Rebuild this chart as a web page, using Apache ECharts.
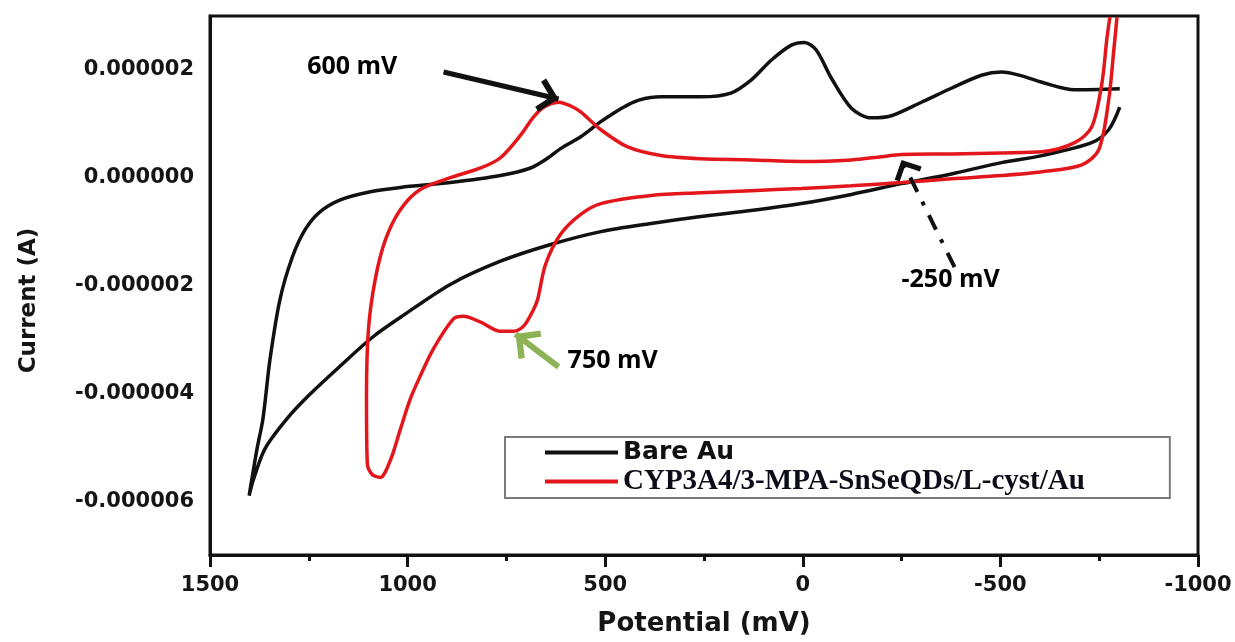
<!DOCTYPE html>
<html>
<head>
<meta charset="utf-8">
<script src="https://cdn.jsdelivr.net/npm/echarts@6/dist/echarts.min.js"></script>
<style>
  html, body { margin: 0; padding: 0; background: #fff; }
  #chart { width: 1235px; height: 642px; }
</style>
</head>
<body>
<div id="chart"></div>
<script>
// Cyclic voltammograms: potential (mV) vs current (A), traced around each loop.
const bareAuName = 'Bare Au';
const bareAuPotential = [
  -802, -774, -731, -605, -503, -376, -250, -123, 4, 131,
  258, 384, 511, 638, 765, 892, 1018, 1089, 1170, 1246,
  1305, 1361, 1391, 1401,
  1381, 1366, 1348, 1323, 1292, 1259, 1221, 1170, 1094, 1018,
  892, 765, 689, 646, 613, 562, 511, 478, 448, 415,
  359, 258, 182, 131, 80, 29, -4, -34, -72, -123,
  -173, -224, -300, -376, -452, -503, -554, -605, -688, -802
];
const bareAuCurrent = [
  1.31e-6, 0.89e-6, 0.65e-6, 0.41e-6, 0.28e-6, 0.07e-6, -0.11e-6, -0.31e-6, -0.48e-6, -0.61e-6,
  -0.72e-6, -0.85e-6, -1.00e-6, -1.24e-6, -1.55e-6, -1.98e-6, -2.59e-6, -2.96e-6, -3.49e-6, -4.01e-6,
  -4.47e-6, -5.03e-6, -5.62e-6, -5.90e-6,
  -5.03e-6, -4.47e-6, -3.36e-6, -2.26e-6, -1.48e-6, -0.96e-6, -0.63e-6, -0.41e-6, -0.26e-6, -0.18e-6,
  -0.09e-6, 0.04e-6, 0.18e-6, 0.36e-6, 0.54e-6, 0.76e-6, 1.04e-6, 1.20e-6, 1.33e-6, 1.44e-6,
  1.50e-6, 1.50e-6, 1.57e-6, 1.81e-6, 2.18e-6, 2.46e-6, 2.51e-6, 2.37e-6, 1.85e-6, 1.29e-6,
  1.11e-6, 1.15e-6, 1.40e-6, 1.66e-6, 1.90e-6, 1.96e-6, 1.89e-6, 1.77e-6, 1.63e-6, 1.65e-6
];

const modName = 'CYP3A4/3-MPA-SnSeQDs/L-cyst/Au';
const modPotential = [
  -777, -769, -757, -731, -688, -605, -503, -376, -250, -199,
  -123, 4, 131, 258, 359, 443, 511, 562, 587, 618,
  651, 681, 714, 765, 815, 892, 968, 1018, 1056, 1082,
  1099, 1104, 1102, 1089, 1069, 1044, 1018, 993, 968, 935,
  884, 859, 815, 765, 732, 706, 681, 671, 651, 613,
  562, 511, 384, 258, 131, 4, -123, -250, -376, -503,
  -605, -706, -749, -774, -787, -795
];
const modCurrent = [
  2.98e-6, 2.55e-6, 1.76e-6, 0.94e-6, 0.65e-6, 0.48e-6, 0.46e-6, 0.44e-6, 0.43e-6, 0.39e-6,
  0.33e-6, 0.30e-6, 0.33e-6, 0.35e-6, 0.41e-6, 0.57e-6, 0.89e-6, 1.22e-6, 1.33e-6, 1.40e-6,
  1.33e-6, 1.13e-6, 0.79e-6, 0.37e-6, 0.18e-6, 0.00e-6, -0.22e-6, -0.59e-6, -1.15e-6, -1.89e-6,
  -2.81e-6, -4.10e-6, -5.30e-6, -5.51e-6, -5.56e-6, -5.25e-6, -4.66e-6, -4.10e-6, -3.68e-6, -3.18e-6,
  -2.62e-6, -2.57e-6, -2.68e-6, -2.85e-6, -2.85e-6, -2.75e-6, -2.44e-6, -2.26e-6, -1.61e-6, -1.05e-6,
  -0.68e-6, -0.48e-6, -0.33e-6, -0.28e-6, -0.24e-6, -0.20e-6, -0.15e-6, -0.09e-6, -0.02e-6, 0.04e-6,
  0.11e-6, 0.24e-6, 0.52e-6, 1.44e-6, 2.37e-6, 2.98e-6
];

// Axis extents
const potentialMin = -1000, potentialMax = 1500, potentialStep = 500;
const currentMin = -7e-6, currentMax = 3e-6, currentStep = 1e-6;

// Peak annotations: text and where it sits, arrows from tail to head
const noteText = ['600 mV', '750 mV', '-250 mV'];
const notePos = [[1140, 2.05e-6], [481, -3.40e-6], [-374, -1.89e-6]];
const arrowTail = [[909, 1.96e-6], [618, -3.51e-6], [-384, -1.66e-6]];
const arrowHead = [[618, 1.46e-6], [727, -2.90e-6], [-250, 0.33e-6]];

const zip = (xs, ys) => xs.map((x, i) => [x, ys[i]]);

// open chevron head; the tiny segment ahead of the tip centres the tip on the line end
const CHEVRON = 'path://M14,0 L28,14 L24.5,17.5 L14,7.07 L3.5,17.5 L0,14 Z M14,-17.5 L14.01,-17.5';

const arrowStyles = [
  { color: '#111111', width: 5, type: 'solid', size: [34, 42] },
  { color: '#8db356', width: 6, type: 'solid', size: [36, 44] },
  { color: '#111111', width: 4, type: [16, 11, 4, 11], size: [30, 37] }
];

const axisFont = { fontFamily: 'DejaVu Sans', fontWeight: 'bold', color: '#151515' };

const chart = echarts.init(document.getElementById('chart'), null, { renderer: 'canvas' });

chart.setOption({
  animation: false,
  backgroundColor: '#ffffff',
  grid: {
    left: 210, right: 37, top: 16, bottom: 85,
    show: true, borderColor: '#111', borderWidth: 3
  },
  xAxis: {
    type: 'value',
    inverse: true,
    min: potentialMin, max: potentialMax, interval: potentialStep,
    name: 'Potential (mV)',
    nameLocation: 'middle',
    nameGap: 56,
    nameTextStyle: Object.assign({ fontSize: 26 }, axisFont),
    axisLine: { show: true, onZero: false, lineStyle: { color: '#111', width: 3 } },
    axisTick: { show: true, inside: false, length: 12, lineStyle: { color: '#111', width: 3 } },
    minorTick: { show: true, splitNumber: 2, length: 6, lineStyle: { color: '#111', width: 3 } },
    splitLine: { show: false },
    minorSplitLine: { show: false },
    axisLabel: Object.assign({ margin: 20, fontSize: 21, formatter: v => String(v) }, axisFont)
  },
  yAxis: {
    type: 'value',
    min: currentMin, max: currentMax, interval: currentStep,
    name: 'Current (A)',
    nameLocation: 'middle',
    nameGap: 169,
    nameTextStyle: Object.assign({ fontSize: 23, padding: [0, 30, 0, 0] }, axisFont),
    axisLine: { show: true, onZero: false, lineStyle: { color: '#111', width: 3 } },
    axisTick: { show: false },
    splitLine: { show: false },
    axisLabel: Object.assign({
      margin: 16, fontSize: 21,
      formatter: v => {
        const n = Math.round(v * 1e6);
        if (n % 2 !== 0) return '';
        return (n < 0 ? '-' : '') + '0.00000' + Math.abs(n);
      }
    }, axisFont)
  },
  legend: {
    data: [bareAuName, modName],
    orient: 'vertical',
    left: 505, top: 437,
    icon: 'rect',
    itemWidth: 73, itemHeight: 4, itemGap: 2,
    padding: [3, 85, 2, 40],
    borderColor: '#7a7a7a', borderWidth: 2,
    backgroundColor: '#ffffff',
    selectedMode: false,
    formatter: n => (n === bareAuName ? '{a|' + n + '}' : '{b|' + n + '}'),
    textStyle: {
      rich: {
        a: { fontFamily: 'DejaVu Sans', fontWeight: 'bold', fontSize: 25, lineHeight: 26, color: '#111' },
        b: { fontFamily: 'Liberation Serif', fontWeight: 'bold', fontSize: 29, lineHeight: 26, color: '#0d0d1a' }
      }
    }
  },
  series: [
    {
      name: bareAuName,
      type: 'line',
      data: zip(bareAuPotential, bareAuCurrent),
      symbol: 'none',
      showSymbol: false,
      smooth: 0.3,
      lineStyle: { color: '#111111', width: 3.5 },
      itemStyle: { color: '#111111' },
      z: 3,
      markLine: {
        silent: true,
        animation: false,
        label: { show: false },
        emphasis: { disabled: true },
        data: arrowTail.map((tail, i) => {
          const s = arrowStyles[i];
          const ls = { color: s.color, width: s.width, type: s.type, cap: 'butt' };
          return [
            { coord: tail, symbol: 'none', lineStyle: ls },
            { coord: arrowHead[i], symbol: CHEVRON, symbolSize: s.size, lineStyle: ls }
          ];
        })
      },
      markPoint: {
        silent: true,
        animation: false,
        symbol: 'rect',
        symbolSize: 1,
        itemStyle: { color: 'rgba(0,0,0,0)' },
        label: {
          show: true, position: 'inside', formatter: '{b}',
          fontFamily: 'Open Sans', fontWeight: 'bold', fontSize: 25, color: '#000'
        },
        data: noteText.map((t, i) => ({ name: t, coord: notePos[i] }))
      }
    },
    {
      name: modName,
      type: 'line',
      data: zip(modPotential, modCurrent),
      symbol: 'none',
      showSymbol: false,
      smooth: 0.3,
      lineStyle: { color: '#e3161c', width: 3.5 },
      itemStyle: { color: '#e3161c' },
      z: 4
    }
  ]
});
</script>
</body>
</html>
